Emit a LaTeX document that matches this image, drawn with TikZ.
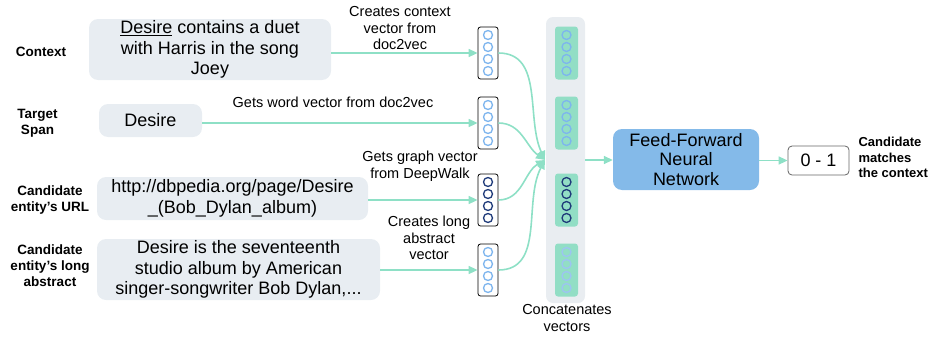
\documentclass[tikz,border=0pt]{standalone}
\usepackage{fontspec}
\setmainfont{Liberation Sans}
\usetikzlibrary{arrows.meta}
\definecolor{boxgray}{HTML}{E8EDF2}
\definecolor{mint}{HTML}{8EE0C6}
\definecolor{blockgreen}{HTML}{92DEC5}
\definecolor{colgray}{HTML}{E9EDF1}
\definecolor{lblue}{HTML}{7DB5EE}
\definecolor{llblue}{HTML}{9CC4F2}
\definecolor{navy}{HTML}{1F3B7A}
\definecolor{ffblue}{HTML}{84BAE9}
\tikzset{
 inbox/.style={fill=boxgray, rounded corners=9pt, align=center, inner sep=0pt, font=\fontsize{18}{20.5}\selectfont},
 side/.style={align=center, font=\fontsize{13.5}{16}\selectfont\bfseries},
 lab/.style={align=center, font=\fontsize{14.5}{16.5}\selectfont},
 flow/.style={draw=mint, line width=1.6pt, -{Triangle[length=9pt,width=8pt]}},
 vecbox/.style={draw=black, fill=white, rounded corners=2.5pt, minimum width=20pt, minimum height=52pt, inner sep=0pt, line width=0.8pt},
 gblock/.style={fill=blockgreen, rounded corners=3pt, minimum width=23pt, minimum height=53pt, inner sep=0pt},
 ring/.style={line width=1.3pt},
}
\begin{document}
\begin{tikzpicture}[x=1pt,y=-1pt]
\useasboundingbox (0,0) rectangle (936,340);
% side labels
\node[side] (lctx) at (41,52) {Context};
\node[side] (lts) at (37.5,123) {Target\\Span};
\node[side] (lurl) at (50,200) {Candidate\\entity’s URL};
\node[side] (labs) at (50,266) {Candidate\\entity’s long\\abstract};
% input boxes
\node[inbox, minimum width=242pt, minimum height=61pt] (ctx) at (210,49.5) {\underline{Desire} contains a duet\\with Harris in the song\\Joey};
\node[inbox, minimum width=103pt, minimum height=33pt] (ts) at (150.5,120.5) {Desire};
\node[inbox, minimum width=271pt, minimum height=43pt] (url) at (232.5,198.5) {http://dbpedia.org/page/Desire\\\_(Bob\_Dylan\_album)};
\node[inbox, minimum width=283pt, minimum height=61pt] (abs) at (238.5,269.5) {Desire is the seventeenth\\studio album by American\\singer-songwriter Bob Dylan,...};
% vectors
\node[vecbox] (v1) at (488,53) {};
\node[vecbox] (v2) at (488,123) {};
\node[vecbox] (v3) at (488,200) {};
\node[vecbox] (v4) at (488,270) {};
\foreach \v/\c in {v1/lblue,v2/lblue,v3/navy,v4/lblue}
  \foreach \dy in {-18,-6,6,18}
    \draw[ring,\c] (\v.center) ++(0,\dy) circle (4.5pt);
% arrows to vectors
\draw[flow] (ctx.east |- v1) -- (v1.west);
\draw[flow] (ts.east |- v2) -- (v2.west);
\draw[flow] (url.east |- v3) -- (v3.west);
\draw[flow] (abs.east |- v4) -- (v4.west);
% arrow labels
\node[lab] (t1) at (400,28.5) {Creates context\\vector from\\doc2vec};
\node[lab] (t2) at (333,102) {Gets word vector from doc2vec};
\node[lab] (t3) at (420,166) {Gets graph vector\\from DeepWalk};
\node[lab] (t4) at (429,238) {Creates long\\abstract\\vector};
% concatenation column
\node[fill=colgray, rounded corners=7pt, minimum width=39pt, minimum height=286pt, inner sep=0pt] (col) at (565.5,160) {};
\node[gblock] (g1) at (566.5,53) {};
\node[gblock] (g2) at (566.5,123) {};
\node[gblock] (g3) at (566.5,200) {};
\node[gblock] (g4) at (566.5,270) {};
\foreach \v/\c in {g1/lblue,g2/lblue,g3/navy,g4/llblue}
  \foreach \dy in {-18,-6,6,18}
    \draw[ring,\c] (\v.center) ++(0,\dy) circle (4.5pt);
\node[lab] (tcat) at (567,318) {Concatenates\\vectors};
% converging curves
\coordinate (conv) at (545,160);
\draw[flow] (v1.east) to[out=0,in=115] (conv);
\draw[flow] (v2.east) to[out=0,in=145] (conv);
\draw[flow] (v3.east) to[out=0,in=-150] (conv);
\draw[flow] (v4.east) to[out=0,in=-118] (conv);
% network and output
\node[fill=ffblue, rounded corners=9pt, minimum width=146pt, minimum height=61pt, inner sep=0pt, align=center, font=\fontsize{18}{19.5}\selectfont] (ffnn) at (686,159.5) {Feed-Forward\\Neural\\Network};
\node[draw=black!60, fill=white, rounded corners=4pt, line width=0.8pt, minimum width=61pt, minimum height=29pt, inner sep=0pt, font=\fontsize{18}{20}\selectfont] (out) at (818.5,160.5) {0 - 1};
\node[anchor=west, align=left, font=\fontsize{13}{15.5}\selectfont\bfseries] (rlab) at (855,157.5) {Candidate\\matches\\the context};
\draw[flow] (col.east) -- (col.east -| ffnn.west);
\draw[flow] (ffnn.east |- out) -- (out.west);
\end{tikzpicture}
\end{document}
